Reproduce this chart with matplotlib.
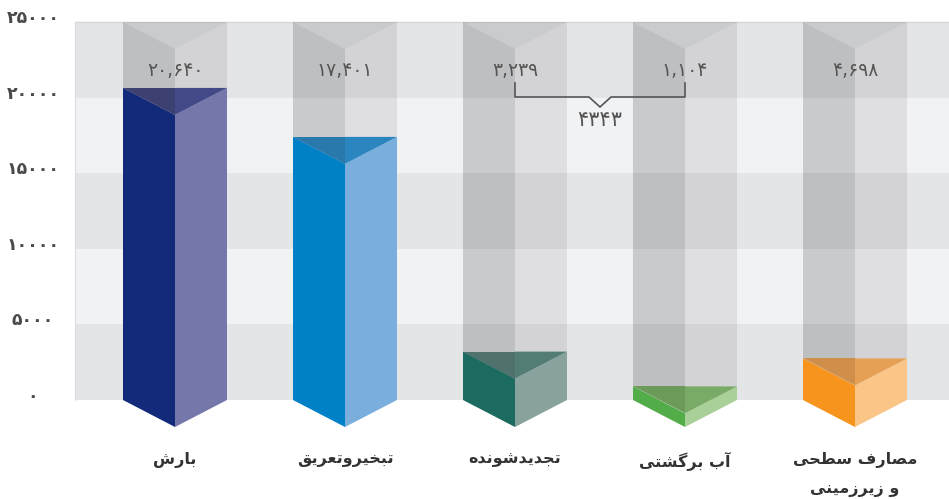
import matplotlib
matplotlib.use("Agg")
import matplotlib.pyplot as plt
from matplotlib.patches import Polygon

# ---- data ----
categories = ["بارش", "تبخیروتعریق", "تجدیدشونده", "آب برگشتی", "مصارف سطحی\nو زیرزمینی"]
value_labels = [20640, 17401, 3239, 1104, 4698]
bar_heights = [20640, 17401, 3200, 900, 2750]   # heights as drawn in the picture
y_ticks = [0, 5000, 10000, 15000, 20000, 25000]
brace_pair = [2, 3]   # bars joined by the brace (sum shown under it)

left_colors = ["#13297a", "#0080c6", "#1c6b60", "#52ac47", "#f7941e"]
right_colors = ["#7477aa", "#7aaedd", "#88a39e", "#a9d098", "#fcc588"]
top_left_colors = ["#3d4172", "#2a79ac", "#4f736c", "#6c9a58", "#cf8f4b"]
top_right_colors = ["#434886", "#2b86c0", "#537c75", "#7aab66", "#e5a055"]

# ---- simple Persian shaping (matplotlib has no complex text layout) ----
FORMS = {
    "ا": ("\uFE8D", "\uFE8E", None, None),
    "آ": ("\uFE81", "\uFE82", None, None),
    "ب": ("\uFE8F", "\uFE90", "\uFE91", "\uFE92"),
    "ت": ("\uFE95", "\uFE96", "\uFE97", "\uFE98"),
    "ج": ("\uFE9D", "\uFE9E", "\uFE9F", "\uFEA0"),
    "ح": ("\uFEA1", "\uFEA2", "\uFEA3", "\uFEA4"),
    "خ": ("\uFEA5", "\uFEA6", "\uFEA7", "\uFEA8"),
    "د": ("\uFEA9", "\uFEAA", None, None),
    "ر": ("\uFEAD", "\uFEAE", None, None),
    "ز": ("\uFEAF", "\uFEB0", None, None),
    "س": ("\uFEB1", "\uFEB2", "\uFEB3", "\uFEB4"),
    "ش": ("\uFEB5", "\uFEB6", "\uFEB7", "\uFEB8"),
    "ص": ("\uFEB9", "\uFEBA", "\uFEBB", "\uFEBC"),
    "ط": ("\uFEC1", "\uFEC2", "\uFEC3", "\uFEC4"),
    "ع": ("\uFEC9", "\uFECA", "\uFECB", "\uFECC"),
    "ف": ("\uFED1", "\uFED2", "\uFED3", "\uFED4"),
    "ق": ("\uFED5", "\uFED6", "\uFED7", "\uFED8"),
    "م": ("\uFEE1", "\uFEE2", "\uFEE3", "\uFEE4"),
    "ن": ("\uFEE5", "\uFEE6", "\uFEE7", "\uFEE8"),
    "ه": ("\uFEE9", "\uFEEA", "\uFEEB", "\uFEEC"),
    "و": ("\uFEED", "\uFEEE", None, None),
    "ی": ("\uFBFC", "\uFBFD", "\uFBFE", "\uFBFF"),
    "گ": ("\uFB92", "\uFB93", "\uFB94", "\uFB95"),
}


def joins_left(ch):
    return ch in FORMS and FORMS[ch][2] is not None


def shape_line(line):
    out = []
    for i, ch in enumerate(line):
        if ch not in FORMS:
            out.append(ch)
            continue
        prev_ok = i > 0 and joins_left(line[i - 1])
        next_ok = joins_left(ch) and i + 1 < len(line) and line[i + 1] in FORMS
        iso, fin, ini, med = FORMS[ch]
        if prev_ok and next_ok:
            out.append(med)
        elif prev_ok:
            out.append(fin)
        elif next_ok:
            out.append(ini)
        else:
            out.append(iso)
    return "".join(reversed(out))


def shape(text):
    return "\n".join(shape_line(l) for l in text.split("\n"))


FA_DIGITS = str.maketrans("0123456789", "۰۱۲۳۴۵۶۷۸۹")


def fa_num(n, comma=True):
    s = f"{n:,}" if comma else str(n)
    return s.translate(FA_DIGITS)


# ---- geometry (1 unit on x = distance between bars) ----
W, H, DPI = 949, 499, 100
px_x = 170.0            # pixels per category
x0_px = 175.0           # pixel x of first bar centre
base_px, top_px = 400.0, 22.0
per_px = 25000 / (base_px - top_px)

fig = plt.figure(figsize=(W / DPI, H / DPI), dpi=DPI)
ax = fig.add_axes([0, 0, 1, 1])
ax.set_xlim(-x0_px / px_x, (W - x0_px) / px_x)
ax.set_ylim((base_px - H) * per_px, base_px * per_px)
ax.axis("off")

half = 52 / px_x
depth = 27 * per_px
plot_left = (75 - x0_px) / px_x
xmin_frac = 75 / W

# background bands
band_colors = ["#e4e5e7", "#f1f2f4"]
for k in range(len(y_ticks) - 1):
    ax.axhspan(y_ticks[k], y_ticks[k + 1], xmin=xmin_frac, xmax=1,
               color=band_colors[k % 2], lw=0, zorder=0)
ax.plot([plot_left, ax.get_xlim()[1]], [y_ticks[-1]] * 2, color="#d5d6d8", lw=1, zorder=1)
ax.plot([plot_left, plot_left], [0, y_ticks[-1]], color="#dcdde0", lw=0.8, zorder=1)

top = y_ticks[-1]
for i, h in enumerate(bar_heights):
    l, c, r = i - half, i, i + half
    # grey ghost column up to the top of the scale
    ax.add_patch(Polygon([(l, top), (c, top - depth), (c, h - depth), (l, h)],
                         closed=True, fc="black", alpha=0.165, lw=0, zorder=2))
    ax.add_patch(Polygon([(c, top - depth), (r, top), (r, h), (c, h - depth)],
                         closed=True, fc="black", alpha=0.075, lw=0, zorder=2))
    ax.add_patch(Polygon([(l, top), (r, top), (c, top - depth)],
                         closed=True, fc="black", alpha=0.11, lw=0, zorder=2))
    # coloured prism
    ax.add_patch(Polygon([(l, h), (c, h - depth), (c, -depth), (l, 0)],
                         closed=True, fc=left_colors[i], lw=0, zorder=3))
    ax.add_patch(Polygon([(c, h - depth), (r, h), (r, 0), (c, -depth)],
                         closed=True, fc=right_colors[i], lw=0, zorder=3))
    ax.add_patch(Polygon([(l, h), (c, h), (c, h - depth)],
                         closed=True, fc=top_left_colors[i], lw=0, zorder=4))
    ax.add_patch(Polygon([(c, h), (r, h), (c, h - depth)],
                         closed=True, fc=top_right_colors[i], lw=0, zorder=4))

    ax.text(c, top - 49 * per_px, fa_num(value_labels[i]), ha="center", va="center",
            fontsize=13.5, color="#555555", family="DejaVu Sans", zorder=6)
    ax.text(c, -52 * per_px, shape(categories[i]), ha="center", va="top",
            fontsize=11.5, fontweight="bold", color="#333333", family="DejaVu Sans",
            linespacing=2.05, zorder=6)

# y labels
for t in y_ticks:
    ax.text((33 - x0_px) / px_x, t + 4 * per_px, fa_num(t, comma=False), ha="center",
            va="center", fontsize=12.5, fontweight="bold", color="#4a4a4a",
            family="DejaVu Sans")

# brace joining two bars
a, b = brace_pair
y_hi = top - 61 * per_px
y_mid = top - 75 * per_px
y_tip = top - 85 * per_px
m = (a + b) / 2
d = 11 / px_x
ax.plot([a, a, m - d, m, m + d, b, b], [y_hi, y_mid, y_mid, y_tip, y_mid, y_mid, y_hi],
        color="#555555", lw=1.2, solid_joinstyle="round", zorder=6)
ax.text(m, top - 98 * per_px, fa_num(value_labels[a] + value_labels[b], comma=False),
        ha="center", va="center", fontsize=15, color="#555555", family="DejaVu Sans",
        zorder=6)

fig.savefig("out.png", dpi=DPI)
